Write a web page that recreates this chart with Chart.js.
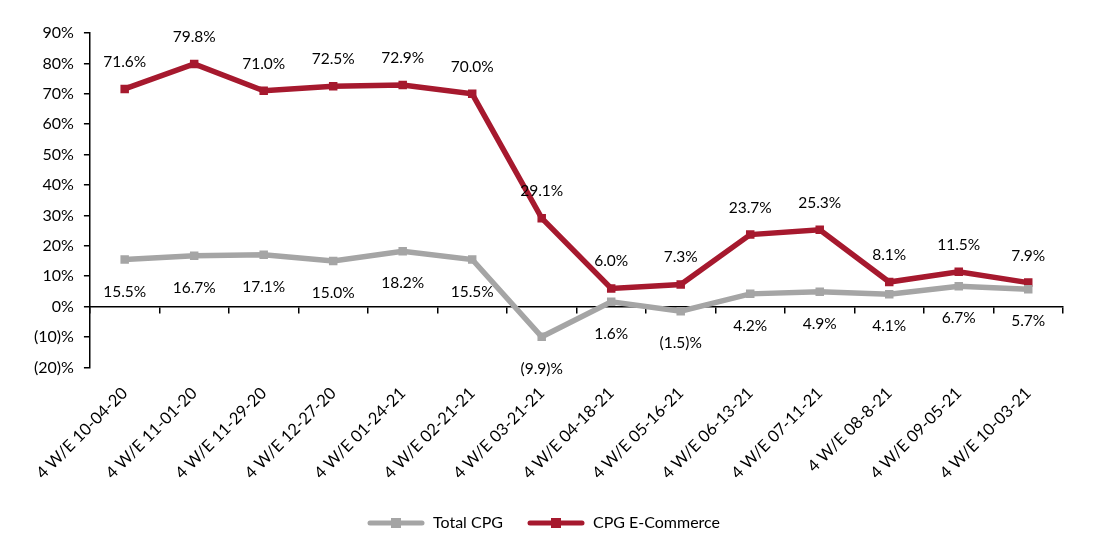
<!DOCTYPE html>
<html>
<head>
<meta charset="utf-8">
<script src="https://cdn.jsdelivr.net/npm/chart.js@4/dist/chart.umd.min.js"></script>
<style>
  html, body { margin: 0; padding: 0; background: #fff; }
  #wrap { width: 1099px; height: 545px; }
</style>
</head>
<body>
<div id="wrap"><canvas id="chart"></canvas></div>
<script>
const weeks = ['4 W/E 10-04-20', '4 W/E 11-01-20', '4 W/E 11-29-20', '4 W/E 12-27-20', '4 W/E 01-24-21',
  '4 W/E 02-21-21', '4 W/E 03-21-21', '4 W/E 04-18-21', '4 W/E 05-16-21', '4 W/E 06-13-21',
  '4 W/E 07-11-21', '4 W/E 08-8-21', '4 W/E 09-05-21', '4 W/E 10-03-21'];
const totalCpg = [15.5, 16.7, 17.1, 15.0, 18.2, 15.5, -9.9, 1.6, -1.5, 4.2, 4.9, 4.1, 6.7, 5.7];
const ecommerce = [71.6, 79.8, 71.0, 72.5, 72.9, 70.0, 29.1, 6.0, 7.3, 23.7, 25.3, 8.1, 11.5, 7.9];

const GREY = '#a5a5a5';
const RED = '#a6192e';
const FONT = 'Lato, "Open Sans", sans-serif';

function pct(v) {
  return v < 0 ? '(' + Math.abs(v).toFixed(1) + ')%' : v.toFixed(1) + '%';
}

// small line+square swatch for the legend
function swatch(color) {
  const c = document.createElement('canvas');
  c.width = 58; c.height = 12;
  const g = c.getContext('2d');
  g.strokeStyle = color;
  g.lineWidth = 5;
  g.lineCap = 'round';
  g.beginPath(); g.moveTo(3, 6); g.lineTo(55, 6); g.stroke();
  g.fillStyle = color;
  g.fillRect(24, 1, 10, 10);
  return c;
}

const valueLabels = {
  id: 'valueLabels',
  afterDatasetsDraw(chart) {
    const ctx = chart.ctx;
    ctx.save();
    ctx.font = '15.5px ' + FONT;
    ctx.fillStyle = '#000';
    ctx.textAlign = 'center';
    ctx.textBaseline = 'middle';
    chart.data.datasets.forEach((ds, i) => {
      const meta = chart.getDatasetMeta(i);
      meta.data.forEach((pt, j) => {
        const dy = ds.labelPos === 'above' ? -27 : 32;
        ctx.fillText(pct(ds.data[j]), pt.x, pt.y + dy);
      });
    });
    ctx.restore();
  }
};

new Chart(document.getElementById('chart'), {
  type: 'line',
  data: {
    labels: weeks,
    datasets: [
      {
        label: 'Total CPG',
        data: totalCpg,
        borderColor: GREY,
        backgroundColor: GREY,
        borderWidth: 5.5,
        pointStyle: 'rect',
        pointRadius: 6,
        pointBorderWidth: 0,
        tension: 0,
        labelPos: 'below'
      },
      {
        label: 'CPG E-Commerce',
        data: ecommerce,
        borderColor: RED,
        backgroundColor: RED,
        borderWidth: 5.5,
        pointStyle: 'rect',
        pointRadius: 6,
        pointBorderWidth: 0,
        tension: 0,
        labelPos: 'above'
      }
    ]
  },
  options: {
    responsive: true,
    maintainAspectRatio: false,
    animation: false,
    layout: { padding: { top: 33, right: 36, left: 24, bottom: 4 } },
    plugins: {
      tooltip: { enabled: false },
      legend: {
        position: 'bottom',
        labels: {
          font: { size: 16, family: FONT },
          color: '#000',
          usePointStyle: true,
          pointStyleWidth: 58,
          boxHeight: 12,
          padding: 24,
          generateLabels(chart) {
            return chart.data.datasets.map((ds, i) => ({
              text: ds.label,
              pointStyle: swatch(ds.borderColor),
              fillStyle: ds.borderColor,
              strokeStyle: ds.borderColor,
              lineWidth: 0,
              hidden: false,
              datasetIndex: i
            }));
          }
        }
      }
    },
    scales: {
      x: {
        offset: true,
        grid: { display: false },
        border: { display: false },
        ticks: {
          minRotation: 45,
          maxRotation: 45,
          padding: 8,
          color: '#000',
          font: { size: 16.5, family: FONT }
        }
      },
      x2: {
        type: 'category',
        labels: weeks,
        position: { y: 0 },
        offset: true,
        grid: { offset: true, drawOnChartArea: false, tickLength: 6, color: '#000', lineWidth: 1.5 },
        border: { display: true, color: '#000', width: 1.5 },
        ticks: { display: false }
      },
      y: {
        min: -20,
        max: 90,
        ticks: {
          stepSize: 10,
          padding: 10,
          color: '#000',
          font: { size: 16, family: FONT },
          callback: v => (v < 0 ? '(' + Math.abs(v) + ')%' : v + '%')
        },
        grid: { drawOnChartArea: false, tickLength: 6, color: '#000', lineWidth: 1.5 },
        border: { color: '#000', width: 1.5 }
      }
    }
  },
  plugins: [valueLabels]
});
</script>
</body>
</html>
